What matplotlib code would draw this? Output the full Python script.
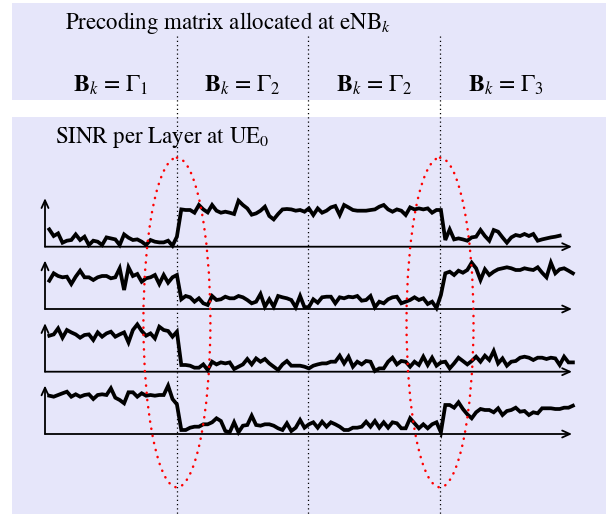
import matplotlib
matplotlib.use('Agg')
import matplotlib.pyplot as plt
from matplotlib.patches import Ellipse, Rectangle
from matplotlib.transforms import blended_transform_factory

plt.rcParams['font.family'] = 'STIXGeneral'
plt.rcParams['mathtext.fontset'] = 'stix'

W, H = 611, 515
LAVENDER = '#e6e6fa'

# SINR per layer at UE0 (one value per sample)
sinr_layer1 = [17.3, 10.7, 13.3, 4, 6, 6.7, 12.3, 6.7, 10, 1.7,
               6, 5, 1.7, 9.3, 8.3, 7.3, 1.7, 12.3, 9, 6.7,
               7.3, 5, 1.7, 6.7, 5, 4.3, 4.3, 6, 1, 10,
               37.3, 36.7, 36.7, 34, 41.7, 37.3, 34.3, 41.7, 36, 34,
               35, 34, 32.7, 46, 41.7, 38.3, 32, 33.3, 36, 40,
               30.7, 27.3, 32.7, 37.3, 37.7, 37.3, 36, 36.7, 35, 38.3,
               31.7, 38.3, 34, 36, 39.3, 40.7, 31.7, 41.7, 39.3, 36.7,
               36, 36, 36, 36.7, 37.3, 40, 41.7, 37.3, 35, 37.3,
               36, 31.7, 39.3, 37.3, 38.3, 37.3, 38.3, 34, 36.7, 36.7,
               6.7, 17.3, 7.3, 8.3, 7.3, 6, 9.3, 10, 16.7, 10.7,
               6, 16.7, 15, 9.3, 4, 9.3, 11.7, 10.7, 12.7, 10.7,
               12.7, 6, 7.3, 8.3, 9.3, 10, 11]
sinr_layer2 = [28.3, 35.7, 33, 31.7, 32.3, 25, 32.3, 38.3, 31.7, 31.7,
               29, 31.7, 33, 33, 30.7, 31.7, 40.7, 19, 41.7, 33,
               35, 27.3, 30.7, 31.7, 34, 25, 34, 26.3, 31.7, 34,
               9.7, 13, 11.7, 7.3, 10.7, 5.7, 4, 13, 9, 9.7,
               12.3, 10.7, 10.7, 13, 11.7, 9, 5.7, 7.3, 15, 2.3,
               9.7, 2.3, 13, 11.7, 10.7, 9, 1.7, 13, 1.7, 2,
               9.7, 6.3, 11.7, 12.3, 12.3, 5.7, 11.7, 10.7, 12.3, 11.7,
               13, 8.3, 9, 13, 1.7, 7.3, 5.7, 9.7, 11.7, 12.3,
               5.7, 7.3, 9, 11.7, 9, 10.7, 5, 7.3, 1, 14,
               35.7, 37.3, 34, 38.3, 36.3, 39, 46.3, 40.7, 29, 39.7,
               34, 37.3, 39.7, 40.7, 41.7, 40.7, 39, 39, 40.7, 39.7,
               39, 41.7, 36.3, 31.7, 46.3, 35.7, 39.7, 40.7, 38.3, 35.7]
sinr_layer3 = [36, 37.3, 43.3, 34, 41.7, 39.3, 37.3, 34, 36.7, 37.3,
               31.7, 39.3, 35, 38.3, 40, 35, 37.3, 39.3, 29.3, 41.7,
               47.3, 40.7, 36, 38.3, 33.3, 45, 41.7, 40.7, 35, 40,
               6.7, 6.7, 6, 4, 4, 7.3, 1.7, 10, 7.3, 9.3,
               8.3, 9.3, 2.7, 5, 7.3, 12.7, 7.3, 13.3, 10, 12.7,
               8.3, 5, 1.7, 7.3, 10.7, 6, 6, 6, 5, 3.3,
               6, 7.3, 8.3, 8.3, 10, 10, 16, 8.3, 15, 5,
               10, 7.3, 10.7, 10, 0.7, 3.3, 3.3, 10, 14, 7.3,
               10.7, 10, 5, 10, 6.7, 15, 6.7, 14, 6, 9.3,
               10, 3.3, 8.3, 14, 10.7, 7.3, 10.7, 15, 10, 16,
               11.7, 20.7, 8.3, 13.3, 6, 10, 10.7, 14, 15, 14,
               11.7, 14, 14, 12.7, 14, 13.3, 6.7, 15, 9.3, 9.3]
sinr_layer4 = [38.3, 37.3, 39, 40.7, 42.3, 37.3, 39.7, 37.3, 39, 39.7,
               35, 39, 39.7, 39, 45.7, 36.3, 34, 30.7, 41.7, 41.7,
               37.3, 40.7, 38.3, 39, 38.3, 39, 39, 48.3, 35, 29.7,
               4, 4, 6.3, 7.3, 7.3, 9.7, 9.7, 11.7, 15.7, 13,
               3, 1.7, 11.7, 1.7, 8.3, 9, 18.3, 9, 8.3, 9.7,
               9.7, 8.3, 5.7, 4, 10.7, 3, 6.3, 14, 6.3, 9.7,
               11.7, 6.3, 12.3, 7.3, 11.7, 9.7, 7.3, 4, 4, 6.3,
               6.3, 7.3, 12.3, 7.3, 13, 6.3, 11.7, 6.3, 11.7, 10.7,
               5.7, 5.7, 15.7, 10.7, 5.7, 9.7, 5.7, 9.7, 11.7, 1.7,
               29, 29, 26.3, 31.7, 25, 19.7, 15.7, 21.7, 25, 24,
               24, 21.7, 25.7, 19, 23, 24, 26.3, 22.3, 23, 19,
               21.7, 20.7, 25.7, 25.7, 25.7, 25, 25, 26.3, 26.3, 28.3]
layers = [sinr_layer1, sinr_layer2, sinr_layer3, sinr_layer4]

# sample index where eNB_k switches its precoding matrix
boundaries = [29.0, 58.8, 88.8]
matrix_labels = [r'$\mathbf{B}_k$ = $\Gamma_1$', r'$\mathbf{B}_k$ = $\Gamma_2$',
                 r'$\mathbf{B}_k$ = $\Gamma_2$', r'$\mathbf{B}_k$ = $\Gamma_3$']
# the switches that change the matrix are circled
circled = [boundaries[0], boundaries[2]]

# layout in pixels
x_axis_left, x_axis_right = 45, 572
first_sample_px, sample_step_px = 49.3, 4.4
baselines_px = [246.7, 309, 371.7, 434]
axis_height_px = 48.5
t_min = -(first_sample_px - x_axis_left) / sample_step_px
t_max = (x_axis_right - first_sample_px) / sample_step_px

fig = plt.figure(figsize=(W / 100, H / 100), dpi=100)
fig.patch.set_facecolor('white')

bg = fig.add_axes([0, 0, 1, 1], zorder=0)
bg.set_xlim(0, W)
bg.set_ylim(H, 0)
bg.axis('off')

bg.add_patch(Rectangle((12, 3), 594, 97, facecolor=LAVENDER, edgecolor='none'))
bg.add_patch(Rectangle((12, 117), 594, 397, facecolor=LAVENDER, edgecolor='none'))

bg.text(65, 28.5, r'Precoding matrix allocated at eNB$_k$', fontsize=16.5,
        ha='left', va='baseline')
bg.text(55, 143.3, r'SINR per Layer at UE$_0$', fontsize=16.5,
        ha='left', va='baseline')

layer_axes = []
for sinr, base in zip(layers, baselines_px):
    ax = fig.add_axes([x_axis_left / W, (H - base) / H,
                       (x_axis_right - x_axis_left) / W, axis_height_px / H],
                      zorder=1)
    ax.set_xlim(t_min, t_max)
    ax.set_ylim(0, axis_height_px)
    ax.patch.set_alpha(0)
    ax.axis('off')
    ax.plot(range(len(sinr)), sinr, color='black', lw=2.7, clip_on=False,
            solid_joinstyle='miter')
    arrow = dict(arrowstyle='->,head_length=0.55,head_width=0.25', lw=1.3,
                 color='black', shrinkA=0, shrinkB=0)
    ax.annotate('', xy=(1, 0), xytext=(0, 0), xycoords='axes fraction',
                arrowprops=arrow)
    ax.annotate('', xy=(0, 1), xytext=(0, 0), xycoords='axes fraction',
                arrowprops=arrow)
    layer_axes.append(ax)

# time on x (shared by all layers), pixels on y
trans_bg = blended_transform_factory(layer_axes[0].transData, bg.transData)

for b in boundaries:
    bg.plot([b, b], [36, H], transform=trans_bg, color='black', lw=0.9,
            linestyle=(0, (1, 2.4)))

edges = [t_min] + boundaries + [t_max]
for label, lo, hi in zip(matrix_labels, edges[:-1], edges[1:]):
    bg.text((lo + hi) / 2, 91.7, label, transform=trans_bg, fontsize=17,
            ha='center', va='baseline')

top = fig.add_axes([0, 0, 1, 1], zorder=2)
top.set_xlim(0, W)
top.set_ylim(H, 0)
top.patch.set_alpha(0)
top.axis('off')
trans_top = blended_transform_factory(layer_axes[0].transData, top.transData)
for b in circled:
    top.add_patch(Ellipse((b, 322.5), 67 / sample_step_px, 329.6,
                          transform=trans_top, fill=False, edgecolor='red',
                          lw=1.8, linestyle=(0, (0.1, 2.8)), capstyle='round'))

fig.savefig('out.png', dpi=100)
